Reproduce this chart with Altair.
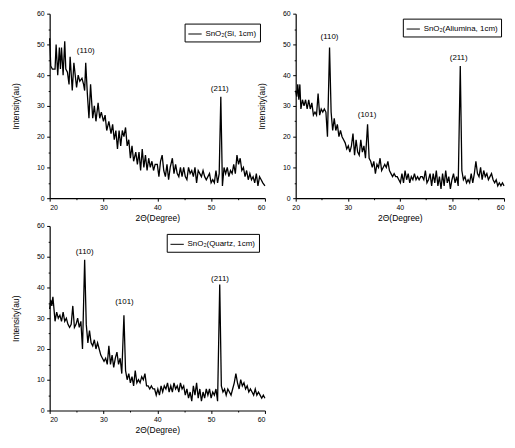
import altair as alt
import pandas as pd

# ---------------- data ----------------
SI_X = [20, 20.2, 20.5, 21, 21.2, 21.5, 21.8, 22, 22.2, 22.5,
        22.8, 23, 23.3, 23.6, 23.8, 24.2, 24.5, 25, 25.3, 25.6,
        26, 26.3, 26.5, 26.7, 27, 27.3, 27.6, 28, 28.3, 28.6,
        29, 29.3, 29.6, 30, 30.3, 30.6, 31, 31.4, 31.7, 32,
        32.3, 32.6, 32.9, 33.2, 33.5, 33.8, 34.1, 34.4, 34.7, 35,
        35.3, 35.6, 36, 36.3, 36.6, 36.9, 37.2, 37.5, 37.8, 38.1,
        38.4, 38.7, 39, 39.3, 39.6, 40, 40.3, 40.6, 40.9, 41.2,
        41.5, 41.8, 42.1, 42.4, 42.8, 43.1, 43.4, 43.7, 44, 44.3,
        44.6, 44.9, 45.2, 45.5, 45.8, 46.1, 46.4, 46.7, 47, 47.3,
        47.6, 47.9, 48.2, 48.5, 48.8, 49.1, 49.4, 49.7, 50, 50.3,
        50.6, 50.9, 51.2, 51.5, 51.8, 52.1, 52.4, 52.7, 53, 53.3,
        53.6, 53.9, 54.2, 54.5, 54.8, 55.1, 55.4, 55.7, 56, 56.3,
        56.6, 56.9, 57.2, 57.5, 57.8, 58.1, 58.4, 58.7, 59, 59.3,
        59.6, 60]
SI_Y = [52, 43, 42, 42, 50, 40, 49, 42, 49, 40,
        51, 42, 41, 37, 46, 35, 44, 36, 40, 38,
        39, 37, 35, 44, 34, 26, 37, 26, 30, 25,
        31, 26, 28, 25, 27, 22, 25, 21, 24, 19,
        22, 16, 22, 17, 22, 20, 23, 17, 19, 13,
        17, 12, 15, 11, 15, 9, 16, 10, 14, 9,
        13, 10, 12, 9, 11, 11, 7, 12, 14, 9,
        7, 11, 6, 10, 13, 8, 11, 8, 7, 10,
        7, 10, 7, 6, 10, 8, 9, 7, 10, 5,
        9, 8, 7, 9, 7, 6, 7, 8, 5, 6,
        5, 9, 5, 8, 33, 4, 10, 8, 10, 7,
        9, 8, 11, 8, 14, 11, 13, 9, 10, 7,
        9, 6, 8, 6, 7, 5, 8, 4, 7, 6,
        5, 4]

B_X = [20, 20.2, 20.4, 20.6, 20.8, 21, 21.3, 21.6, 21.9, 22.2,
       22.5, 22.8, 23.1, 23.4, 23.7, 24, 24.3, 24.6, 24.9, 25.2,
       25.5, 25.8, 26.1, 26.5, 26.8, 27.1, 27.4, 27.7, 28, 28.3,
       28.6, 28.9, 29.2, 29.5, 29.8, 30.1, 30.4, 30.7, 31, 31.3,
       31.6, 31.9, 32.2, 32.5, 32.8, 33.1, 33.4, 33.8, 34.1, 34.4,
       34.7, 35, 35.3, 35.6, 35.9, 36.2, 36.5, 36.8, 37.1, 37.4,
       37.7, 38, 38.3, 38.6, 38.9, 39.2, 39.5, 39.8, 40.1, 40.4,
       40.7, 41, 41.3, 41.6, 41.9, 42.2, 42.5, 42.8, 43.1, 43.4,
       43.7, 44, 44.3, 44.6, 44.9, 45.2, 45.5, 45.8, 46.1, 46.4,
       46.7, 47, 47.3, 47.6, 47.9, 48.2, 48.5, 48.8, 49.1, 49.4,
       49.7, 50, 50.3, 50.6, 50.9, 51.2, 51.6, 51.9, 52.2, 52.5,
       52.8, 53.1, 53.4, 53.7, 54, 54.3, 54.6, 54.9, 55.2, 55.5,
       55.8, 56.1, 56.4, 56.7, 57, 57.3, 57.6, 57.9, 58.2, 58.5,
       58.8, 59.1, 59.4, 59.7, 60]
AL_Y = [35, 33, 37, 32, 37, 29, 32, 30, 32, 29,
        32, 29, 31, 27, 28, 27, 34, 27, 29, 28,
        29, 28, 20, 49, 28, 22, 26, 22, 24, 20,
        22, 20, 19, 18, 16, 17, 15, 17, 21, 14,
        19, 15, 14, 19, 15, 17, 13, 24, 13, 12,
        10, 12, 8, 11, 10, 13, 9, 10, 11, 10,
        12, 9, 8, 7, 8, 7, 7, 6, 5, 8,
        5, 9, 6, 8, 5, 7, 6, 8, 6, 7,
        6, 7, 7, 6, 9, 5, 6, 8, 4, 8,
        5, 9, 4, 7, 3, 8, 4, 9, 5, 7,
        3, 6, 8, 5, 7, 4, 43, 9, 6, 7,
        5, 6, 5, 8, 5, 8, 12, 8, 7, 10,
        6, 9, 7, 8, 6, 7, 8, 6, 5, 6,
        4, 5, 4, 5, 4]
QZ_Y = [33, 36, 34, 37, 33, 29, 32, 30, 31, 29,
        32, 29, 30, 28, 27, 28, 34, 27, 28, 30,
        27, 29, 20, 49, 28, 22, 26, 22, 21, 23,
        20, 22, 20, 18, 17, 16, 17, 15, 21, 15,
        18, 14, 17, 19, 15, 17, 12, 31, 13, 10,
        12, 9, 11, 8, 13, 9, 10, 9, 11, 10,
        12, 8, 8, 7, 8, 7, 7, 5, 7, 5,
        8, 6, 8, 7, 9, 6, 8, 6, 9, 7,
        8, 6, 9, 7, 8, 5, 7, 4, 6, 3,
        8, 5, 9, 4, 7, 3, 6, 4, 7, 5,
        7, 4, 6, 5, 7, 3, 41, 8, 6, 7,
        5, 7, 6, 5, 7, 9, 12, 9, 7, 10,
        8, 9, 7, 8, 6, 7, 6, 5, 7, 5,
        6, 5, 4, 5, 4]

SI_PEAK_X = [26.7, 51.6]
SI_PEAK_Y = [47.7, 35.6]
SI_PEAK_T = ["(110)", "(211)"]
AL_PEAK_X = [26.5, 33.7, 51.3]
AL_PEAK_Y = [52.4, 27.2, 45.6]
AL_PEAK_T = ["(110)", "(101)", "(211)"]
QZ_PEAK_X = [26.5, 33.9, 51.65]
QZ_PEAK_Y = [51.6, 35.3, 42.7]
QZ_PEAK_T = ["(110)", "(101)", "(211)"]

NAMES = ["SnO\u2082(Si, 1cm)", "SnO\u2082(Aliumina, 1cm)", "SnO\u2082(Quartz, 1cm)"]

FONT = "Liberation Sans"
TICK_COND = {"condition": {"test": "datum.value % 10 === 0", "value": 3}, "value": 1.5}
LABEL_EXPR = "datum.value % 10 === 0 ? datum.label : ''"


def panel(xs, ys, name, px, py, pt, lx, ly, w, last_right=False):
    df = pd.DataFrame({"x": xs, "y": ys, "s": [name] * len(xs)})
    pk = pd.DataFrame({"x": px, "y": py, "t": pt})
    xsc = alt.Scale(domain=[20, 60], nice=False, zero=False)
    ysc = alt.Scale(domain=[0, 60], nice=False)
    xkw = {}
    if last_right:
        xkw["labelAlign"] = {"condition": {"test": "datum.value === 60", "value": "right"},
                             "value": "center"}
    xax = alt.Axis(values=list(range(20, 61, 5)), labelExpr=LABEL_EXPR,
                   tickSize=TICK_COND, title="2\u0398(Degree)", titlePadding=3,
                   labelPadding=2.5, labelOverlap=False, **xkw)
    yax = alt.Axis(values=list(range(0, 61, 5)), labelExpr=LABEL_EXPR,
                   tickSize=TICK_COND, title="Intensity(au)", titlePadding=16,
                   labelPadding=2.5, labelOverlap=False)
    line = alt.Chart(df).mark_line(strokeWidth=1.3, strokeJoin="miter").encode(
        x=alt.X("x:Q", scale=xsc, axis=xax),
        y=alt.Y("y:Q", scale=ysc, axis=yax),
        color=alt.Color("s:N", scale=alt.Scale(domain=[name], range=["black"]),
                        legend=alt.Legend(title=None, orient="none", legendX=lx, legendY=ly,
                                          strokeColor="black", fillColor="white", padding=3,
                                          symbolType="stroke", symbolSize=180,
                                          symbolStrokeWidth=1, labelFontSize=8,
                                          labelFont=FONT, labelColor="black",
                                          cornerRadius=0, labelOffset=3)),
    )
    txt = alt.Chart(pk).mark_text(fontSize=8, font=FONT, color="black").encode(
        x=alt.X("x:Q", scale=xsc, axis=xax), y=alt.Y("y:Q", scale=ysc, axis=yax),
        text="t:N")
    return alt.layer(line, txt).properties(width=w, height=186)


p1 = panel(SI_X, SI_Y, NAMES[0], SI_PEAK_X, SI_PEAK_Y, SI_PEAK_T, 136, 10, 217)
p2 = panel(B_X, AL_Y, NAMES[1], AL_PEAK_X, AL_PEAK_Y, AL_PEAK_T, 108, 5, 210, True)
p3 = panel(B_X, QZ_Y, NAMES[2], QZ_PEAK_X, QZ_PEAK_Y, QZ_PEAK_T, 118, 8, 217)

chart = alt.concat(p1, p2, p3, columns=2, spacing={"row": 28, "column": 31},
                   bounds="flush").resolve_scale(color="independent").properties(
    padding={"left": 3, "top": 0, "right": 0, "bottom": 0}
).configure_view(stroke=None).configure_axis(
    domainColor="black", tickColor="black", labelColor="black", titleColor="black",
    labelFont=FONT, titleFont=FONT, labelFontSize=7, titleFontSize=8.5,
    titleFontWeight="normal", grid=False, domainWidth=1.2, tickWidth=1,
    labelOverlap=False
)

chart.save("out.html", embed_options={"renderer": "svg", "actions": False})
